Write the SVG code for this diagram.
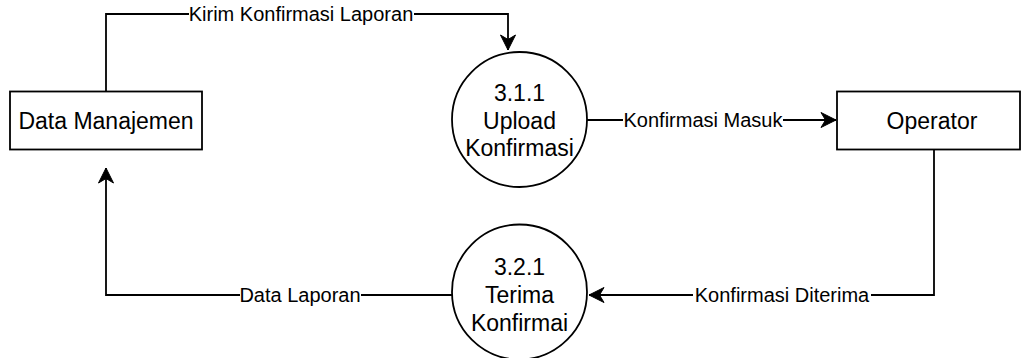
<svg xmlns="http://www.w3.org/2000/svg" width="1022" height="358" viewBox="0 0 1022 358">
<style>
.box{fill:#fff;stroke:#000;stroke-width:1.8}
.proc{fill:#fff;stroke:#000;stroke-width:1.8}
.edge{fill:none;stroke:#000;stroke-width:1.8}
.nt{font-family:"Liberation Sans",Arial,sans-serif;font-size:23px;fill:#000;text-anchor:middle}
.et{font-family:"Liberation Sans",Arial,sans-serif;font-size:20px;fill:#000;text-anchor:middle}
.lb{fill:#fff;stroke:none}
</style>
<defs>
<marker id="arr" markerUnits="userSpaceOnUse" markerWidth="20" markerHeight="20" viewBox="-16 -10 20 20" refX="0" refY="0" orient="auto">
<path d="M0,0 L-15,-7.5 L-10.5,0 L-15,7.5 Z" fill="#000" stroke="#000" stroke-width="1"/>
</marker>
</defs>
<g id="connectors">
<path class="edge" d="M106,91.5 V14 H508 V50" marker-end="url(#arr)"/>
<path class="edge" d="M587,120 H836" marker-end="url(#arr)"/>
<path class="edge" d="M934,149.5 V295 H589" marker-end="url(#arr)"/>
<path class="edge" d="M452,295 H106 V168" marker-end="url(#arr)"/>
<rect class="lb" x="189" y="3" width="225" height="22"/>
<text class="et" x="301" y="21">Kirim Konfirmasi Laporan</text>
<rect class="lb" x="623" y="109" width="160" height="22"/>
<text class="et" x="703" y="127">Konfirmasi Masuk</text>
<rect class="lb" x="693" y="284" width="178" height="22"/>
<text class="et" x="782" y="302">Konfirmasi Diterima</text>
<rect class="lb" x="240" y="284" width="121" height="22"/>
<text class="et" x="300" y="302">Data Laporan</text>
</g>
<g id="data-manajemen">
<rect class="box" x="10" y="91.5" width="192" height="58"/>
<text class="nt" x="106" y="128.5">Data Manajemen</text>
</g>
<g id="operator">
<rect class="box" x="837" y="91.5" width="183" height="58"/>
<text class="nt" x="932" y="128.5">Operator</text>
</g>
<g id="p311">
<circle class="proc" cx="519.5" cy="119.5" r="67.5"/>
<text class="nt" x="519.5" y="101">3.1.1</text>
<text class="nt" x="519.5" y="128.5">Upload</text>
<text class="nt" x="519.5" y="156">Konfirmasi</text>
</g>
<g id="p321">
<circle class="proc" cx="519.5" cy="292" r="67.5"/>
<text class="nt" x="519.5" y="275">3.2.1</text>
<text class="nt" x="519.5" y="303">Terima</text>
<text class="nt" x="519.5" y="331">Konfirmai</text>
</g>
</svg>
